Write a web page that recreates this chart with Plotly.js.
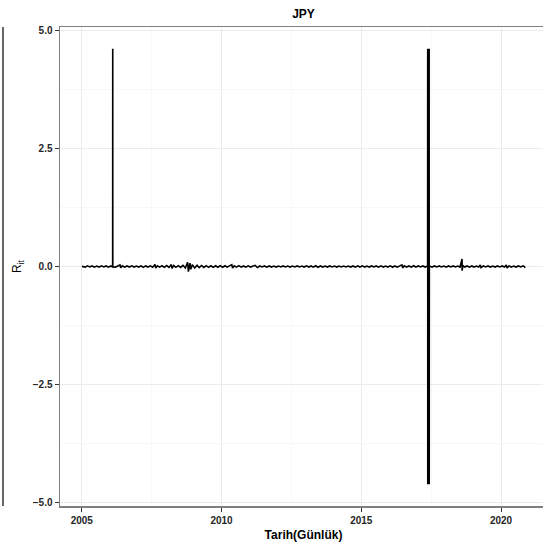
<!DOCTYPE html>
<html>
<head>
<meta charset="utf-8">
<script src="https://cdn.plot.ly/plotly-3.0.1.min.js"></script>
<style>
html,body{margin:0;padding:0;overflow:hidden;background:#fff;}
#chart{width:560px;height:545px;}
</style>
</head>
<body>
<div id="chart"></div>
<script>
// Daily returns of JPY (R_it)
const dates = [
"2005-01-03","2005-02-15","2005-03-15","2005-04-15","2005-05-15","2005-06-15","2005-07-15","2005-08-15","2005-09-15","2005-10-15","2005-11-15","2005-12-15",
"2006-01-15","2006-02-08","2006-02-09","2006-02-10","2006-03-15","2006-04-15","2006-05-15","2006-05-25","2006-06-15","2006-07-15","2006-08-15","2006-09-15","2006-10-15","2006-11-15","2006-12-15",
"2007-01-15","2007-02-15","2007-03-15","2007-04-15","2007-05-15","2007-06-15","2007-07-15","2007-08-15","2007-08-25","2007-09-15","2007-10-15","2007-11-15","2007-12-15",
"2008-01-15","2008-02-15","2008-03-15","2008-03-25","2008-04-15","2008-05-15","2008-06-15","2008-07-15","2008-08-15","2008-09-15","2008-10-15","2008-10-25","2008-11-15","2008-11-25","2008-12-15",
"2009-01-15","2009-02-15","2009-03-15","2009-04-15","2009-05-15","2009-06-15","2009-07-15","2009-08-15","2009-09-15","2009-10-15","2009-11-15","2009-12-15",
"2010-01-15","2010-02-15","2010-03-15","2010-04-15","2010-05-15","2010-05-25","2010-06-15","2010-07-15","2010-08-15","2010-09-15","2010-10-15","2010-11-15","2010-12-15",
"2011-01-15","2011-02-15","2011-03-15","2011-04-15","2011-05-15","2011-06-15","2011-07-15","2011-08-15","2011-09-15","2011-10-15","2011-11-15","2011-12-15",
"2012-01-15","2012-02-15","2012-03-15","2012-04-15","2012-05-15","2012-06-15","2012-07-15","2012-08-15","2012-09-15","2012-10-15","2012-11-15","2012-12-15",
"2013-01-15","2013-02-15","2013-03-15","2013-04-15","2013-05-15","2013-06-15","2013-07-15","2013-08-15","2013-09-15","2013-10-15","2013-11-15","2013-12-15",
"2014-01-15","2014-02-15","2014-03-15","2014-04-15","2014-05-15","2014-06-15","2014-07-15","2014-08-15","2014-09-15","2014-10-15","2014-11-15","2014-12-15",
"2015-01-15","2015-02-15","2015-03-15","2015-04-15","2015-05-15","2015-06-15","2015-07-15","2015-08-15","2015-09-15","2015-10-15","2015-11-15","2015-12-15",
"2016-01-15","2016-02-15","2016-03-15","2016-04-15","2016-05-15","2016-06-15","2016-06-25","2016-07-15","2016-08-15","2016-09-15","2016-10-15","2016-11-15","2016-12-15",
"2017-01-15","2017-02-15","2017-03-15","2017-04-15","2017-05-17","2017-05-18","2017-05-19","2017-06-06","2017-06-07","2017-06-08","2017-07-15","2017-08-15","2017-09-15","2017-10-15","2017-11-15","2017-12-15",
"2018-01-15","2018-02-15","2018-03-15","2018-04-15","2018-05-15","2018-06-15","2018-07-15","2018-08-10","2018-08-11","2018-08-20","2018-09-15","2018-10-15","2018-11-15","2018-12-15",
"2019-01-15","2019-02-15","2019-03-15","2019-04-05","2019-04-15","2019-05-15","2019-06-15","2019-07-15","2019-08-15","2019-09-15","2019-10-15","2019-11-15","2019-12-15",
"2020-01-15","2020-02-15","2020-03-10","2020-03-20","2020-04-15","2020-05-15","2020-06-15","2020-07-15","2020-08-15","2020-09-15","2020-10-15","2020-11-01","2020-11-10"
];
const rit = [
0.003,-0.012,0.014,-0.009,0.012,-0.015,0.010,-0.011,0.013,-0.010,0.012,-0.013,
0.011,-0.008,4.605,-0.006,-0.014,0.018,0.032,-0.028,0.015,-0.013,0.012,-0.011,0.013,-0.012,0.010,
-0.012,0.014,-0.018,0.012,-0.011,0.013,-0.015,0.042,-0.035,0.016,-0.014,0.015,-0.017,
0.020,-0.020,0.040,-0.038,0.020,-0.017,0.018,-0.020,0.025,-0.030,0.090,-0.110,0.070,-0.060,0.035,
-0.030,0.028,-0.025,0.022,-0.020,0.018,-0.017,0.016,-0.018,0.015,-0.016,0.017,
-0.015,0.016,-0.014,0.020,0.040,-0.035,0.016,-0.014,0.018,-0.013,0.012,-0.014,0.013,
-0.011,0.012,0.025,-0.022,0.011,-0.010,0.012,-0.013,0.011,-0.012,0.010,-0.011,
0.009,-0.010,0.011,-0.009,0.010,-0.011,0.009,-0.010,0.011,-0.009,0.010,-0.012,
0.013,-0.011,0.012,-0.014,0.016,-0.015,0.012,-0.011,0.010,-0.012,0.011,-0.010,
0.009,-0.011,0.010,-0.009,0.010,-0.010,0.009,-0.011,0.012,-0.013,0.014,-0.012,
0.013,-0.011,0.010,-0.012,0.011,-0.010,0.012,-0.014,0.013,-0.011,0.010,-0.012,
0.013,-0.015,0.012,-0.014,0.016,0.035,-0.030,0.014,-0.012,0.011,-0.013,0.015,-0.012,
0.011,-0.010,0.012,-0.011,0.010,4.605,-4.605,4.605,-4.605,0.010,-0.011,0.012,-0.010,0.011,-0.009,0.010,
-0.011,0.012,-0.010,0.011,-0.009,0.010,-0.011,0.160,-0.090,0.020,-0.012,0.011,-0.013,0.012,
-0.011,0.010,-0.012,0.030,-0.025,0.011,-0.010,0.012,-0.011,0.010,-0.012,0.011,-0.010,
0.011,-0.012,0.030,-0.030,0.013,-0.011,0.010,-0.012,0.011,-0.010,0.012,0.000,-0.030
];
const xTickVals = ["2005-01-01","2010-01-01","2015-01-01","2020-01-01"];
const xTickText = ["2005","2010","2015","2020"];
const xMinorVals = ["2007-07-02","2012-07-02","2017-07-02"];
const yTickVals = [-5,-2.5,0,2.5,5];
const yTickText = ["\u22125.0","\u22122.5","0.0","2.5","5.0"];
const yMinorVals = [-3.75,-1.25,1.25,3.75];

const font = "Liberation Sans, Arial, Helvetica, sans-serif";

const trace = {
  x: dates, y: rit, type: "scatter", mode: "lines",
  line: {color: "#000000", width: 1.6},
  hoverinfo: "x+y"
};

const layout = {
  width: 560, height: 545,
  margin: {l: 60, r: 13, t: 27, b: 39},
  paper_bgcolor: "#ffffff", plot_bgcolor: "#ffffff",
  showlegend: false,
  font: {family: font, color: "#262626"},
  title: {text: "<b>JPY</b>", font: {family: font, size: 12, color: "#000000"},
          x: 0.5, xref: "paper", y: 1 - 14/545, yref: "container", yanchor: "middle"},
  xaxis: {
    type: "date", range: ["2004-03-22", "2021-08-24"],
    tickmode: "array", tickvals: xTickVals, ticktext: xTickText,
    tickfont: {family: font, size: 10, color: "#262626", weight: "bold"},
    ticks: "outside", ticklen: 4, tickwidth: 1, tickcolor: "#333333",
    showgrid: true, gridcolor: "#ebebeb", gridwidth: 1,
    minor: {tickmode: "array", tickvals: xMinorVals, showgrid: true, gridcolor: "#f3f3f3", gridwidth: 0.6, ticks: ""},
    showline: true, mirror: true, linecolor: "#7f7f7f", linewidth: 1.5,
    zeroline: false,
    title: {text: "<b>Tarih(Günlük)</b>", font: {family: font, size: 12, color: "#000000"}, standoff: 6}
  },
  yaxis: {
    range: [-5.066, 5.066],
    tickmode: "array", tickvals: yTickVals, ticktext: yTickText,
    tickfont: {family: font, size: 10, color: "#262626", weight: "bold"},
    ticks: "outside", ticklen: 4, tickwidth: 1, tickcolor: "#333333",
    showgrid: true, gridcolor: "#ebebeb", gridwidth: 1,
    minor: {tickmode: "array", tickvals: yMinorVals, showgrid: true, gridcolor: "#f3f3f3", gridwidth: 0.6, ticks: ""},
    showline: true, mirror: true, linecolor: "#7f7f7f", linewidth: 1.5,
    zeroline: false,
    title: {text: "R<sub>it</sub>", font: {family: font, size: 12, color: "#000000"}, standoff: 8}
  },
  shapes: [
    {type: "line", xref: "paper", yref: "paper", x0: -57/487, x1: -57/487, y0: 0, y1: 1,
     line: {color: "#333333", width: 1.5}}
  ]
};

Plotly.newPlot("chart", [trace], layout, {displayModeBar: false, staticPlot: true});
</script>
</body>
</html>
